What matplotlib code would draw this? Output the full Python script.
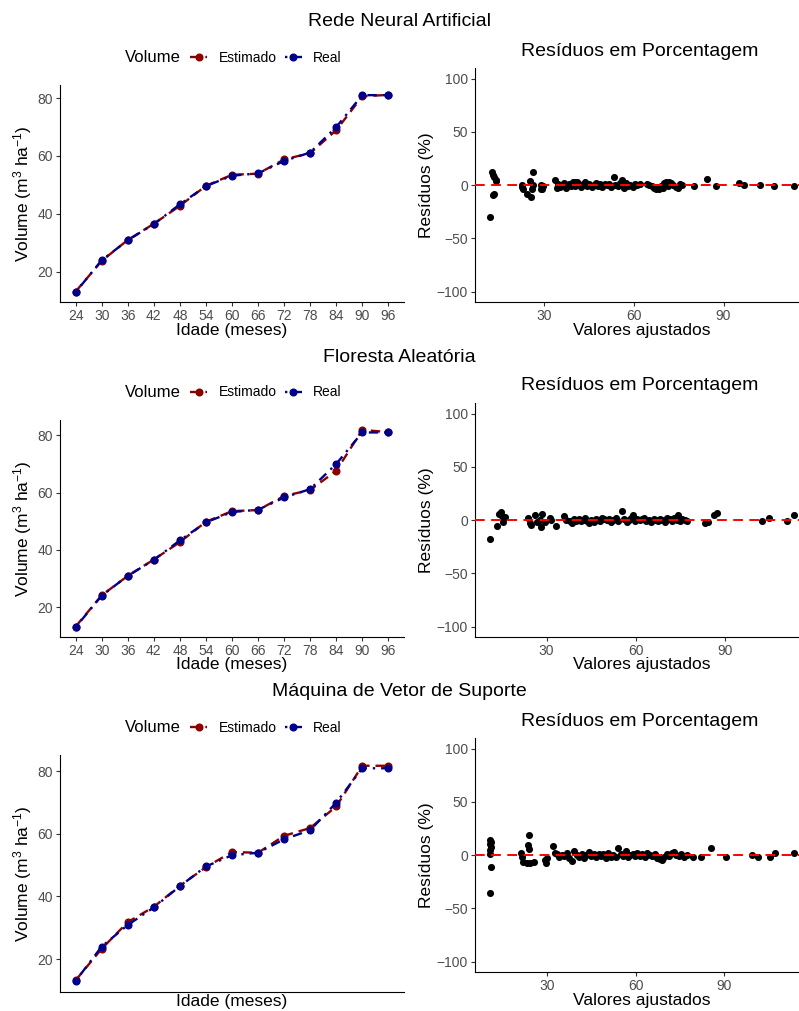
import matplotlib
matplotlib.use("Agg")
import matplotlib.pyplot as plt

plt.rcParams['font.family'] = ['Liberation Sans', 'DejaVu Sans']
plt.rcParams['mathtext.fontset'] = 'custom'
plt.rcParams['mathtext.rm'] = 'Liberation Sans'
plt.rcParams['mathtext.it'] = 'Liberation Sans:italic'
plt.rcParams['mathtext.default'] = 'regular'

W, H, DPI = 799, 1011, 100

# ---- data -------------------------------------------------------------
ages = [24, 30, 36, 42, 48, 54, 60, 66, 72, 78, 84, 90, 96]
volume_real = [13.0, 24.0, 30.9, 36.5, 43.3, 49.6, 53.2, 54.0, 58.3, 61.2, 70.0, 81.0, 81.0]
volume_rna = [13.2, 23.8, 31.0, 36.6, 42.8, 49.7, 53.5, 53.9, 58.8, 61.0, 68.9, 80.6, 81.1]
volume_rf = [13.2, 24.1, 30.9, 36.6, 42.7, 49.8, 53.5, 53.9, 58.8, 60.9, 67.6, 81.9, 81.1]
volume_svm = [13.2, 23.3, 31.8, 36.7, 43.4, 49.4, 54.2, 54.0, 59.4, 61.9, 68.8, 81.8, 81.8]

model_names = ["Rede Neural Artificial", "Floresta Aleatória", "Máquina de Vetor de Suporte"]

# (valor ajustado, resíduo %) for each model
residuals_rna = [
    (12.0, -30.0), (13.0, -9.5), (13.3, -8.6), (12.6, 12.5), (12.9, 10.0), (13.4, 8.0),
    (13.8, 5.0), (14.1, 3.8),
    (22.5, 0.6), (23.1, -3.4), (24.2, -8.0), (25.5, -11.2), (25.3, 3.8), (26.2, 12.8),
    (26.0, -3.4), (26.4, 0.6), (22.8, -1.5),
    (29.0, 0.6), (29.3, -3.4), (29.6, -1.0), (29.1, -4.0),
    (33.8, 5.0), (34.2, -2.5), (34.6, 1.2), (35.3, -1.8), (36.1, 0.4), (36.8, 2.1),
    (37.5, -2.9), (38.4, 0.8), (39.0, -1.2), (39.6, 3.2), (40.1, 2.6), (40.5, -0.5),
    (41.0, 3.0), (41.8, 1.1), (42.4, -1.9), (43.1, 0.3), (43.6, 3.1), (44.3, -0.8),
    (45.2, 1.5), (45.9, -1.4), (46.7, 0.6), (47.4, 2.0), (48.2, -1.0), (48.8, 0.9),
    (49.5, -2.2), (50.3, 1.4), (51.0, -0.3), (51.7, 0.7), (52.4, -1.6), (53.3, 7.5),
    (53.8, 0.5), (54.6, -1.1), (55.4, 1.8), (56.2, 4.4), (56.6, -2.6), (57.3, 2.3),
    (58.1, -0.4), (58.9, 0.2), (59.6, -1.7), (60.4, 1.0), (61.2, 0.6), (62.0, 1.3),
    (64.3, 0.8), (65.2, 0.1), (66.0, -0.7), (66.8, -2.5), (67.3, -3.8), (67.9, -1.9),
    (68.5, -3.2), (69.1, -1.0), (69.7, -2.8), (70.2, 1.6), (70.8, 2.5), (71.3, -0.6),
    (71.9, 2.8), (72.5, 1.9), (73.2, 0.4), (74.0, -1.5), (74.8, -3.0), (75.5, 0.9),
    (76.2, 0.3),
    (80.2, -1.2), (84.5, 6.0), (87.4, -0.6), (95.3, 1.9), (97.0, 0.4), (102.2, -0.3),
    (106.9, -0.6), (113.5, -0.9),
]

residuals_rf = [
    (11.0, -18.1), (13.2, -5.6), (14.1, 6.2), (14.9, 3.7), (16.0, 3.1), (15.4, -1.6),
    (14.6, 7.8),
    (23.8, 1.6), (24.3, -3.1), (24.9, -4.7), (26.2, 4.7), (26.6, -1.6), (27.7, 0.6),
    (28.2, -6.3), (28.6, 6.2), (29.3, -1.6), (31.0, 2.2), (31.6, 0.0), (33.0, -5.6),
    (36.0, 3.7), (36.6, 0.6), (37.7, -1.0),
    (38.5, -2.5), (39.3, 0.8), (40.0, -0.4), (40.8, 1.5), (41.5, -1.2), (42.2, 0.3),
    (43.0, 1.8), (43.6, -0.9), (44.4, -2.6), (45.1, 0.5), (45.8, -1.5), (46.5, 1.2),
    (47.3, 0.2), (48.0, -0.8), (48.8, 2.0), (49.4, 0.9), (50.2, -0.3), (51.0, 1.1),
    (51.7, -1.6), (52.5, 0.4), (53.2, 2.2), (54.0, -0.5), (55.4, 8.7), (56.1, 1.0),
    (56.9, -1.3), (57.6, 0.6), (58.3, 1.7), (59.0, 4.7), (59.8, -0.7), (60.5, 1.3),
    (61.3, -0.2), (62.0, 0.8), (62.8, 2.1), (63.6, -1.0), (64.4, 0.4), (65.2, -1.8),
    (66.0, 1.5), (66.7, 0.2), (67.5, -0.6), (68.2, 1.0), (69.0, 0.0), (69.8, -1.4),
    (70.6, 1.9), (71.4, 0.7), (72.2, -0.9), (73.0, 2.4), (73.8, 0.1), (74.1, 4.7),
    (74.9, -0.4), (75.7, 1.2), (76.5, 0.3), (77.4, -0.5),
    (83.2, -3.1), (84.3, -1.6), (86.3, 4.7), (87.4, 6.9), (102.4, -0.6), (104.9, 2.2),
    (110.8, -0.6), (113.2, 4.7),
]

residuals_svm = [
    (10.7, 14.0), (10.9, 12.5), (10.8, 10.3), (10.9, 8.0), (10.7, 4.7), (10.8, 0.9),
    (10.9, -11.0), (10.8, -35.3),
    (23.7, 18.7), (23.4, 9.4), (23.7, 6.2), (21.0, 1.6), (21.5, -2.2), (22.0, -6.2),
    (23.2, -7.8), (24.3, -7.2), (25.4, -6.2), (29.3, -4.7), (29.7, -7.8), (30.1, -3.1),
    (32.1, 8.4), (32.7, 1.6),
    (33.4, 1.2), (34.2, -1.5), (35.0, 0.4), (35.8, -0.9), (36.7, 2.3), (37.5, -3.0),
    (38.3, -5.3), (39.2, 4.0), (40.0, 0.6), (40.9, -1.8), (41.7, 1.1), (42.5, -2.4),
    (43.3, 0.2), (44.2, 2.8), (45.0, -1.1), (45.8, 0.7), (46.6, -2.0), (47.5, 1.5),
    (48.3, -0.5), (49.1, 0.9), (49.9, -2.6), (50.8, 1.8), (51.6, -1.3), (52.4, 0.3),
    (53.3, -1.9), (54.2, 6.8), (55.0, 1.2), (55.8, -0.8), (56.7, 3.7), (57.3, -2.2),
    (58.2, 0.5), (59.0, 1.4), (59.8, -1.0), (60.6, 2.2), (61.5, -0.4), (62.3, 1.0),
    (63.2, -1.7), (64.0, 2.2), (64.9, 0.1), (65.7, -0.9), (66.5, 1.3), (67.4, -2.8),
    (68.2, -3.6), (69.0, -4.7), (69.8, -2.0), (70.7, 0.8), (71.5, -1.2), (72.3, 2.2),
    (72.9, 3.3), (73.8, 0.4), (74.6, -0.7), (75.5, 0.9), (76.4, -1.5), (77.3, -0.3),
    (79.6, -2.2), (82.2, -2.2), (85.5, 6.8), (90.6, -2.2), (99.5, 0.0), (101.6, -2.2),
    (105.7, -1.6), (107.2, 2.2), (113.7, 2.2),
]

estimates = [volume_rna, volume_rf, volume_svm]
residual_sets = [residuals_rna, residuals_rf, residuals_svm]

# ---- styling --------------------------------------------------------------
RED, BLUE = "#8B0000", "#00008B"
TICK_GREY = "#4D4D4D"
ROW_STEP = 335


def rect(x0, y0, x1, y1):
    """Pixel box (top-left origin) -> figure fraction rectangle."""
    return [x0 / W, 1 - y1 / H, (x1 - x0) / W, (y1 - y0) / H]


def to_axes(box, px, py):
    x0, y0, x1, y1 = box
    return (px - x0) / (x1 - x0), (y1 - py) / (y1 - y0)


def expand(values, mult=0.05):
    lo, hi = min(values), max(values)
    r = hi - lo
    return lo - mult * r, hi + mult * r


def style_axes(ax):
    for side in ("top", "right"):
        ax.spines[side].set_visible(False)
    for side in ("left", "bottom"):
        ax.spines[side].set_color("black")
        ax.spines[side].set_linewidth(0.8)
    ax.tick_params(axis="both", colors="#333333", labelcolor=TICK_GREY,
                   labelsize=10, length=2.9, width=0.8, pad=2.2)


fig = plt.figure(figsize=(W / DPI, H / DPI), dpi=DPI)

for i in range(3):
    o = ROW_STEP * i
    last = i == 2

    # row heading
    fig.text(0.5, 1 - (22 + o) / H, model_names[i], ha="center", va="center", fontsize=14)

    # ---- volume over age ----
    lbox = (60, 85 + o, 404, (991.7 if last else 302 + o))
    axl = fig.add_axes(rect(*lbox))
    est = estimates[i]
    l_est, = axl.plot(ages, est, color=RED, lw=1.7, dashes=(4, 2.5),
                      marker="o", ms=4.8, label="Estimado", zorder=3)
    l_real, = axl.plot(ages, volume_real, color=BLUE, lw=1.7, dashes=(1, 2.5, 4, 2.5),
                       marker="o", ms=4.8, label="Real", zorder=4)
    axl.set_xlim(ages[0] - 0.05 * (ages[-1] - ages[0]), ages[-1] + 0.05 * (ages[-1] - ages[0]))
    axl.set_ylim(*expand(est + volume_real))
    axl.set_xticks(ages)
    axl.set_yticks([20, 40, 60, 80])
    style_axes(axl)
    if last:
        axl.tick_params(axis="x", bottom=False, labelbottom=False)
    axl.set_xlabel("Idade (meses)", fontsize=12.5)
    axl.set_ylabel("Volume (m$^3$ ha$^{-1}$)", fontsize=12.5)
    axl.xaxis.set_label_coords(*to_axes(lbox, 232, (994 if last else 322.5 + o)))
    axl.yaxis.set_label_coords(*to_axes(lbox, 34, (lbox[1] + lbox[3]) / 2))

    # legend on top of the panel
    fig.text(125 / W, 1 - (57.5 + o) / H, "Volume", ha="left", va="center", fontsize=12)
    fig.legend(handles=[l_est, l_real], loc="center left",
               bbox_to_anchor=(190 / W, 1 - (57.5 + o) / H), ncol=2, frameon=False,
               fontsize=10, handlelength=1.25, handletextpad=0.8, columnspacing=0.6,
               borderpad=0, borderaxespad=0, numpoints=1)

    # ---- percentage residuals ----
    rbox = (475, 68 + o, 809, 302.3 + o)
    axr = fig.add_axes(rect(*rbox))
    fx = [p[0] for p in residual_sets[i]]
    ry = [p[1] for p in residual_sets[i]]
    axr.scatter(fx, ry, s=26, color="black", linewidths=0, zorder=3)
    axr.axhline(0, color="red", lw=1.4, dashes=(5, 3.3), zorder=4)
    axr.set_xlim(*expand(fx))
    axr.set_ylim(-110, 110)
    axr.set_xticks([30, 60, 90])
    axr.set_yticks([-100, -50, 0, 50, 100])
    style_axes(axr)
    axr.set_xlabel("Valores ajustados", fontsize=12.5)
    axr.set_ylabel("Resíduos (%)", fontsize=12.5)
    axr.xaxis.set_label_coords(*to_axes(rbox, 642, 322.5 + o))
    axr.yaxis.set_label_coords(*to_axes(rbox, 434, (rbox[1] + rbox[3]) / 2))
    fig.text(640 / W, 1 - (51 + o) / H, "Resíduos em Porcentagem",
             ha="center", va="center", fontsize=14)

fig.savefig("out.png", dpi=DPI)
